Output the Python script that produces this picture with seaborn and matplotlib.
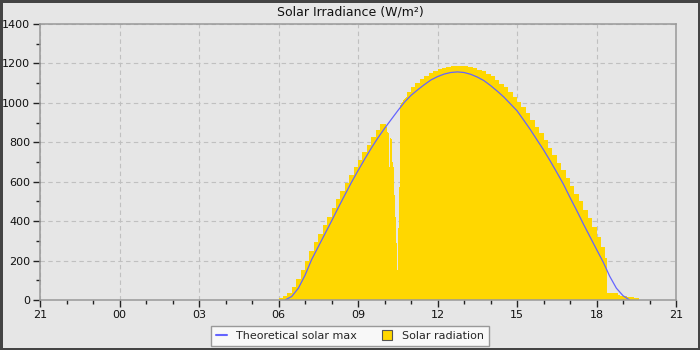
import numpy as np
import pandas as pd
import matplotlib
matplotlib.use("Agg")
import matplotlib.pyplot as plt
from matplotlib.lines import Line2D
import seaborn as sns

# ---------------- data ----------------
title = "Solar Irradiance (W/m²)"
x_tick_labels = ["21", "00", "03", "06", "09", "12", "15", "18", "21"]
legend_labels = ["Theoretical solar max", "Solar radiation"]

# theoretical max: every 15 minutes from 06:15 to 19:15
theo_start = "06:15"
theo_values = [0, 18, 60,
               125, 205, 270, 335,
               400, 467, 532, 596,
               656, 714, 770, 822,
               870, 915, 960, 1003,
               1038, 1066, 1092, 1116,
               1133, 1146, 1154, 1157,
               1154, 1145, 1131, 1113,
               1088, 1060, 1030, 995,
               960, 913, 865, 813,
               762, 706, 648, 588,
               520, 455, 387, 322,
               257, 193, 120, 60,
               22, 0]

# measured radiation: bin start times and values, last bin ends at rad_end
rad_times = ["06:00", "06:10", "06:20", "06:30", "06:40", "06:50",
             "07:00", "07:10", "07:20", "07:30", "07:40", "07:50",
             "08:00", "08:10", "08:20", "08:30", "08:40", "08:50",
             "09:00", "09:10", "09:20", "09:30", "09:40", "09:50",
             "10:00", "10:02", "10:04", "10:06", "10:08", "10:10",
             "10:12", "10:14", "10:16", "10:18", "10:20", "10:22",
             "10:24", "10:26", "10:28", "10:30", "10:32", "10:34",
             "10:36", "10:38", "10:40", "10:42", "10:44", "10:46",
             "10:48", "10:50",
             "11:00", "11:10", "11:20", "11:30", "11:40", "11:50",
             "12:00", "12:10", "12:20", "12:30", "12:40", "12:50",
             "13:00", "13:10", "13:20", "13:30", "13:40", "13:50",
             "14:00", "14:10", "14:20", "14:30", "14:40", "14:50",
             "15:00", "15:10", "15:20", "15:30", "15:40", "15:50",
             "16:00", "16:10", "16:20", "16:30", "16:40", "16:50",
             "17:00", "17:10", "17:20", "17:30", "17:40", "17:50",
             "18:00", "18:10", "18:20", "18:24", "18:34", "18:48",
             "18:54", "19:10", "19:24"]
rad_values = [8, 18, 35, 65, 105, 150,
              200, 250, 295, 335, 380, 423,
              467, 510, 553, 593, 635, 675,
              712, 750, 788, 825, 860, 893,
              900, 895, 880, 850, 848, 676,
              820, 815, 720, 700, 676, 533,
              420, 289, 152, 365, 575, 888,
              990, 1000, 1005, 1012, 1018, 1024,
              1030, 1055,
              1080, 1100, 1120, 1138, 1152, 1163,
              1172, 1178, 1183, 1186, 1188, 1187,
              1185, 1181, 1176, 1169, 1160, 1148,
              1135, 1118, 1098, 1078, 1056, 1032,
              1006, 978, 948, 915, 880, 845,
              810, 772, 735, 697, 660, 620,
              580, 540, 500, 458, 415, 372,
              322, 270, 215, 38, 36, 25,
              18, 15, 10]
rad_end = "19:36"


def to_hours(s):
    """hours since 21:00 of the previous day"""
    h, m = map(int, s.split(":"))
    return h + 3 + m / 60.0


theo_x = to_hours(theo_start) + np.arange(len(theo_values)) * 0.25
edges = [to_hours(t) for t in rad_times] + [to_hours(rad_end)]
centers = [(a + b) / 2 for a, b in zip(edges[:-1], edges[1:])]
rad_df = pd.DataFrame({"t": centers, "w": rad_values})
theo_df = pd.DataFrame({"t": theo_x, "v": theo_values})

# ---------------- style ----------------
sns.set_theme(style="white")
plt.rcParams["font.family"] = ["DejaVu Sans"]

BG = "#e6e6e6"
fig = plt.figure(figsize=(7, 3.5), dpi=100, facecolor=BG)
fig.patch.set_edgecolor("#444444")
fig.patch.set_linewidth(3.6)

ax = fig.add_axes([40 / 700, 50 / 350, 636 / 700, 276 / 350])
ax.set_facecolor(BG)
ax.set_axisbelow(True)

sns.histplot(data=rad_df, x="t", weights="w", bins=edges, element="step",
             fill=True, color="#FFD700", alpha=1, linewidth=0, ax=ax)
sns.lineplot(data=theo_df, x="t", y="v", color="#6464ff", linewidth=0.9,
             ax=ax)

ax.set_xlim(0, 24)
ax.set_ylim(0, 1400)
ax.set_xticks(np.arange(0, 25, 3))
ax.set_xticklabels(x_tick_labels)
ax.set_xticks(np.arange(0, 25, 1), minor=True)
ax.set_yticks(np.arange(0, 1401, 200))
ax.set_yticks(np.arange(0, 1401, 100), minor=True)
ax.set_xlabel("")
ax.set_ylabel("")

ax.tick_params(which="major", direction="out", length=5, width=1,
               color="#222222", labelsize=8, labelcolor="#111111", pad=2,
               bottom=True, left=True)
ax.tick_params(which="minor", direction="out", length=3, width=1,
               color="#222222", bottom=True, left=True)

ax.grid(True, which="major", color="#c0c0c0", linestyle=(0, (4, 3)),
        linewidth=0.8)
for sp in ax.spines.values():
    sp.set_visible(True)
    sp.set_color("#999999")
    sp.set_linewidth(1.1)

fig.text(0.5, 1 - 12 / 350, title, ha="center", va="center", fontsize=9,
         color="#111111")

handles = [Line2D([0], [0], color="#6464ff", lw=1.5),
           Line2D([0], [0], marker="s", linestyle="none",
                  markerfacecolor="#FFD700", markeredgecolor="#555555",
                  markersize=7, markeredgewidth=0.8)]
leg = fig.legend(handles, legend_labels, loc="lower center",
                 bbox_to_anchor=(0.5, -0.004), ncol=2, frameon=True,
                 fancybox=False, edgecolor="#999999", facecolor="#f8f8f8",
                 framealpha=1, fontsize=8, handlelength=1.0,
                 columnspacing=2.2, borderpad=0.45, handletextpad=0.8)
leg.get_frame().set_linewidth(1.0)

fig.savefig("out.png", dpi=100, facecolor=fig.get_facecolor(),
            edgecolor=fig.get_edgecolor())
